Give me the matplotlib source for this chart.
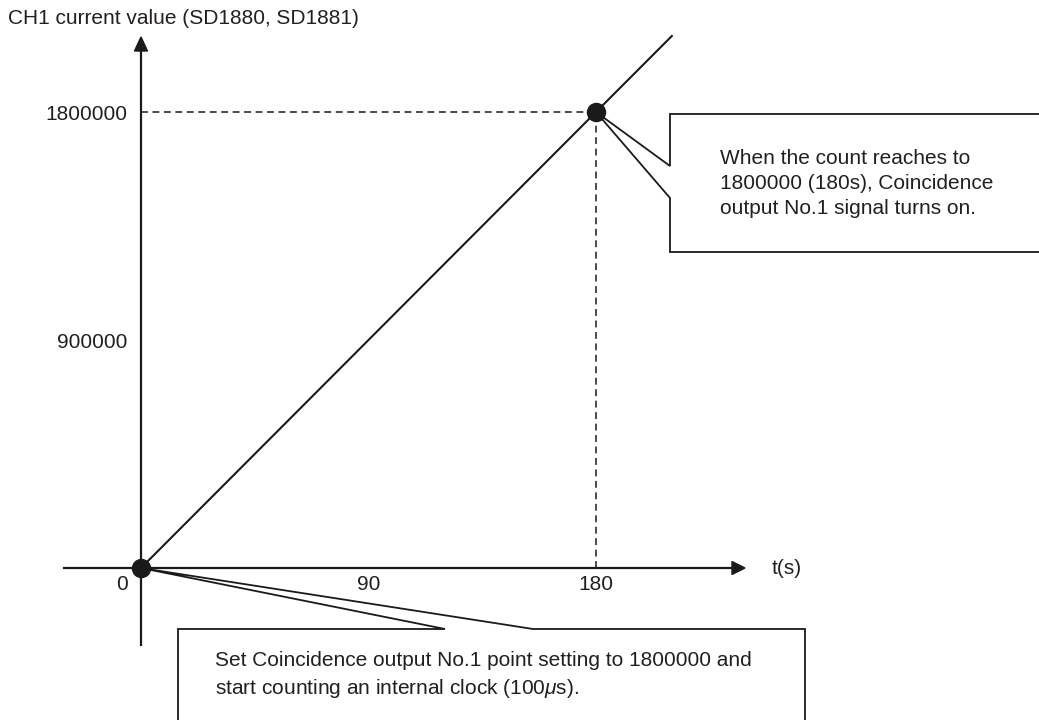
import matplotlib.pyplot as plt
from matplotlib.patches import Polygon

# data
t_line = [0, 210]
count_line = [0, 2100000]
marked_t = [0, 180]
marked_count = [0, 1800000]
x_ticks = [0, 90, 180]
y_ticks = [900000, 1800000]
y_title = 'CH1 current value (SD1880, SD1881)'
x_title = 't(s)'
note_top = 'When the count reaches to\n1800000 (180s), Coincidence\noutput No.1 signal turns on.'
note_bottom = ('Set Coincidence output No.1 point setting to 1800000 and\n'
               'start counting an internal clock (100$\\mu$s).')

plt.rcParams['font.family'] = ['Liberation Sans', 'DejaVu Sans']
plt.rcParams['mathtext.fontset'] = 'custom'
plt.rcParams['mathtext.it'] = 'Liberation Sans:italic'
plt.rcParams['mathtext.rm'] = 'Liberation Sans'

W, H = 1039, 720
ox, oy = 141, 568          # origin in pixels
sx = 455 / 180             # px per second
sy = 456 / 1800000         # px per count
FS = 15
TXT = '#231f20'


def X(px):
    return (px - ox) / sx


def Y(row):
    return (oy - row) / sy


fig = plt.figure(figsize=(W / 100, H / 100), dpi=100)
ax = fig.add_axes([0, 0, 1, 1])
ax.set_xlim(X(0), X(W))
ax.set_ylim(Y(H), Y(0))

for s in ['top', 'right']:
    ax.spines[s].set_visible(False)
ax.spines['left'].set_position(('data', 0))
ax.spines['bottom'].set_position(('data', 0))
ax.spines['left'].set_bounds(Y(645), Y(50))
ax.spines['bottom'].set_bounds(X(64), X(734))
ax.spines['left'].set_linewidth(1.6)
ax.spines['bottom'].set_linewidth(1.6)
ax.spines['left'].set_color('#1a1a1a')
ax.spines['bottom'].set_color('#1a1a1a')
ax.set_xticks([])
ax.set_yticks(y_ticks)
ax.set_yticklabels([f'{v}' for v in y_ticks], fontsize=FS, color=TXT)
ax.tick_params(axis='y', length=0, pad=10)

# arrow heads
ax.add_patch(Polygon([(X(ox - 6.5), Y(51)), (X(ox + 6.5), Y(51)), (0, Y(37))],
                     closed=True, color='#1a1a1a', zorder=5, clip_on=False))
ax.add_patch(Polygon([(X(732), Y(oy - 6.5)), (X(732), Y(oy + 6.5)), (X(745), 0)],
                     closed=True, color='#1a1a1a', zorder=5, clip_on=False))

# x tick labels
for v in x_ticks:
    xp = X(122) if v == 0 else v
    ax.text(xp, Y(585), str(v), ha='center', va='center', fontsize=FS, color=TXT)
ax.text(X(772), 0, x_title, ha='left', va='center', fontsize=FS, color=TXT)
ax.text(X(8), Y(18), y_title, ha='left', va='center', fontsize=FS, color=TXT)

# count line
ax.plot(t_line, count_line, color='#1a1a1a', lw=1.5, zorder=3)
# guides
ax.plot([0, marked_t[1]], [marked_count[1]] * 2, color='#1a1a1a', lw=1.1,
        linestyle=(0, (4.5, 3)), zorder=2)
ax.plot([marked_t[1]] * 2, [0, marked_count[1]], color='#1a1a1a', lw=1.1,
        linestyle=(0, (4.5, 3)), zorder=2)
ax.plot(marked_t, marked_count, 'o', color='#1a1a1a', markersize=13, zorder=6)

# callouts
top_box = [(X(1050), Y(114)), (X(670), Y(114)), (X(670), Y(166)),
           (marked_t[1], marked_count[1]), (X(670), Y(198)), (X(670), Y(252)),
           (X(1050), Y(252))]
ax.add_patch(Polygon(top_box, closed=False, facecolor='white', edgecolor='#1a1a1a',
                     lw=1.3, zorder=4))
ax.text(X(720), Y(149), note_top, ha='left', va='top', fontsize=FS,
        color=TXT, linespacing=1.4, zorder=5)

bottom_box = [(X(178), Y(730)), (X(178), Y(629)), (X(445), Y(629)),
              (marked_t[0], marked_count[0]), (X(533), Y(629)), (X(805), Y(629)),
              (X(805), Y(730))]
ax.add_patch(Polygon(bottom_box, closed=False, facecolor='white', edgecolor='#1a1a1a',
                     lw=1.3, zorder=4))
ax.text(X(215), Y(651), note_bottom, ha='left', va='top', fontsize=FS,
        color=TXT, linespacing=1.4, zorder=5)

fig.savefig('out.png', dpi=100)
